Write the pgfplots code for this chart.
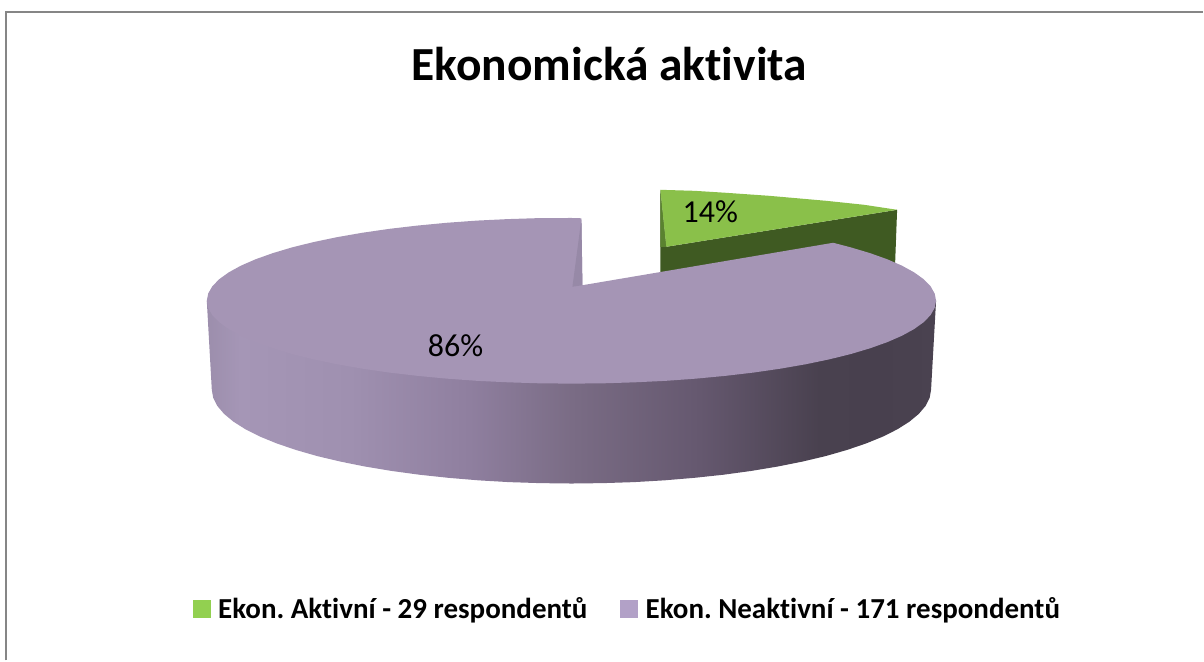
\documentclass[border=0pt]{standalone}
\usepackage{fontspec}
\setmainfont{Carlito}[Ligatures=NoCommon]
\usepackage{pgfplots}
\pgfplotsset{compat=1.18}
\definecolor{frameg}{HTML}{868686}
\definecolor{gtop}{HTML}{8AC04A}
\definecolor{gdark}{HTML}{3F5A22}
\definecolor{gmid}{HTML}{5A8230}
\definecolor{ptop}{HTML}{A595B5}
\definecolor{pin}{HTML}{9789A7}
\definecolor{legg}{HTML}{92D050}
\definecolor{legp}{HTML}{B2A1C7}
\definecolor{s0}{HTML}{9C8EAC}
\definecolor{s1}{HTML}{A596B6}
\definecolor{s2}{HTML}{9F90B0}
\definecolor{s3}{HTML}{8F7F9F}
\definecolor{s4}{HTML}{7A6C85}
\definecolor{s5}{HTML}{65586F}
\definecolor{s6}{HTML}{49414F}
\definecolor{s7}{HTML}{48404E}
\definecolor{s8}{HTML}{4A4250}
\pgfdeclarehorizontalshading{pieside}{100bp}{color(0bp)=(s0); color(25bp)=(s0); color(27.3bp)=(s1); color(34.8bp)=(s2); color(43bp)=(s3); color(50bp)=(s4); color(58.8bp)=(s5); color(67bp)=(s6); color(71bp)=(s7); color(75bp)=(s8); color(100bp)=(s8)}
\frenchspacing
\begin{document}
\begin{tikzpicture}
\begin{axis}[
  width=1204pt, height=661pt, scale only axis,
  xmin=0, xmax=1204, ymin=0, ymax=661, y dir=reverse,
  hide axis, clip=false, no markers,
  legend columns=2,
  legend style={at={(0.5216,0.0787)}, anchor=center, draw=none, fill=none,
    font=\fontsize{29}{31}\selectfont\bfseries,
    /tikz/every even column/.append style={column sep=31pt}},
  every axis plot/.append style={forget plot},
]
% page extent
\addplot[draw=none] coordinates {(0,0) (1204,661)};
% frame
\addplot[frameg, line width=2.4pt] coordinates {(6,661) (6,12) (1204,12)};
% green slice: walls
\addplot[draw=none, fill=gdark] coordinates {(661,190) (667,247) (898,210) (896,264) (661,282)} --cycle;
\addplot[draw=none, fill=gmid] coordinates {(661,190) (667,247) (661,247)} --cycle;
% green slice: top
\addplot[draw=none, fill=gtop] coordinates {(661,190) (695,191) (727,193) (770,196) (827,201) (865,205) (898,210) (667,247)} --cycle;
% purple slice: side wall
\addplot[draw=none, shading=pieside, shading angle=0] coordinates {
(207,301) (212,390) (213.4,398.2) (217.5,406.3) (224.3,414.3) (233.7,422.1) (245.7,429.7) (260.2,437)
(277.1,443.9) (296.2,450.4) (317.4,456.5) (340.6,462) (365.5,467) (392,471.4) (419.9,475.2) (448.9,478.3)
(478.8,480.8) (509.5,482.6) (540.6,483.6) (572,484) (603.4,483.6) (634.5,482.6) (665.2,480.8) (695.1,478.3)
(724.1,475.2) (752,471.4) (778.5,467) (803.4,462) (826.6,456.5) (847.8,450.4) (866.9,443.9) (883.8,437)
(898.3,429.7) (910.3,422.1) (919.7,414.3) (926.5,406.3) (930.6,398.2) (932,390) (937,301)} --cycle;
% purple slice: top
\addplot[draw=none, fill=ptop] coordinates {
(582,218.5) (583,285.5) (834,243) (851.6,247.6) (871,253.4) (888.1,259.5) (902.8,265.9) (915,272.6)
(924.6,279.5) (931.5,286.6) (935.6,293.8) (937,301) (935.6,308.2) (931.5,315.4) (924.6,322.5) (915,329.4)
(902.8,336.1) (888.1,342.5) (871,348.6) (851.6,354.4) (830.1,359.7) (806.6,364.6) (781.4,369) (754.5,372.9)
(726.3,376.2) (696.8,379) (666.5,381.2) (635.4,382.7) (603.8,383.7) (572,384) (540.2,383.7) (508.6,382.7)
(477.5,381.2) (447.2,379) (417.7,376.2) (389.5,372.9) (362.6,369) (337.4,364.6) (313.9,359.7) (292.4,354.4)
(273,348.6) (255.9,342.5) (241.2,336.1) (229,329.4) (219.4,322.5) (212.5,315.4) (208.4,308.2) (207,301)
(208.4,293.8) (212.5,286.6) (219.4,279.5) (229,272.6) (241.2,265.9) (255.9,259.5) (273,253.4) (292.4,247.6)
(313.9,242.3) (337.4,237.4) (362.6,233) (389.5,229.1) (417.7,225.8) (447.2,223) (477.5,220.8) (508.6,219.3)
(540.2,218.3) (572,218.2)} --cycle;
\addplot[draw=none, fill=pin] coordinates {(582,219) (573,287) (583,285.5)} --cycle;
% legend
\addlegendimage{legend image code/.code={\fill[legg] (0cm,-8.5pt) rectangle (17pt,8.5pt); \path (23pt,0pt);}}
\addlegendentry{Ekon. Aktivní - 29 respondentů}
\addlegendimage{legend image code/.code={\fill[legp] (0cm,-8.5pt) rectangle (17pt,8.5pt); \path (23pt,0pt);}}
\addlegendentry{Ekon. Neaktivní - 171 respondentů}
% texts
\node[font=\fontsize{47.5}{50}\selectfont\bfseries, anchor=center] at (axis cs:610,64) {Ekonomická aktivita};
\node[font=\fontsize{32}{34}\selectfont, anchor=center] at (axis cs:711,212) {14\%};
\node[font=\fontsize{32}{34}\selectfont, anchor=center] at (axis cs:456,346) {86\%};
\end{axis}
\end{tikzpicture}
\end{document}
